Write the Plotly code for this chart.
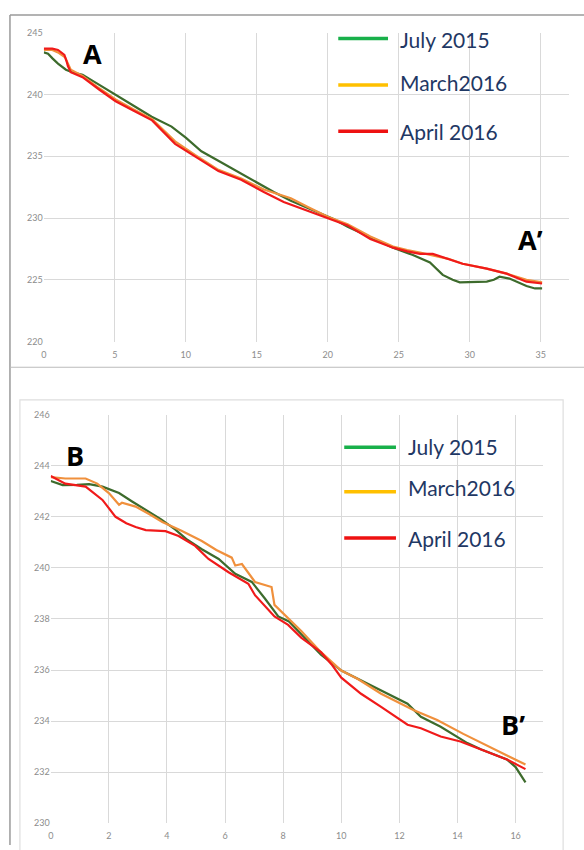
import plotly.graph_objects as go

# ---------------- data: profile A-A' ----------------
a_green_x = [0, 0.3, 0.63, 1.0, 1.56, 2.0, 2.73, 3.9, 5.06, 6.3, 7.6, 9.0, 10.0, 11.1, 12.2, 13.4, 15.0, 16.2, 17.4, 18.8, 20.0, 20.45, 21.4, 22.5, 23.5, 24.6, 26.0, 27.2, 28.1, 28.8, 29.3, 30.2, 31.2, 31.7, 32.1, 32.8, 33.4, 34.0, 34.6, 35.1]
a_green_y = [243.4, 243.3, 242.9, 242.5, 242.0, 241.8, 241.6, 240.8, 240.0, 239.1, 238.2, 237.4, 236.5, 235.4, 234.7, 233.9, 232.9, 232.1, 231.4, 230.7, 230.1, 229.9, 229.3, 228.7, 228.2, 227.6, 227.0, 226.4, 225.4, 225.0, 224.8, 224.85, 224.85, 225.0, 225.25, 225.1, 224.8, 224.5, 224.3, 224.3]

a_march_x = [0, 0.6, 1.0, 1.5, 1.9, 2.73, 3.9, 5.06, 6.3, 7.63, 9.25, 10.65, 12.3, 13.9, 15.5, 17.4, 18.6, 20.0, 21.4, 23.0, 24.6, 25.6, 26.5, 27.4, 28.5, 29.5, 31.2, 32.6, 34.0, 35.1]
a_march_y = [243.6, 243.6, 243.4, 243.0, 242.0, 241.5, 240.5, 239.6, 238.8, 238.0, 236.2, 235.1, 233.9, 233.2, 232.3, 231.6, 230.9, 230.1, 229.5, 228.5, 227.7, 227.4, 227.2, 227.0, 226.7, 226.3, 225.9, 225.5, 225.0, 224.8]

a_april_x = [0, 0.6, 1.0, 1.3, 1.45, 1.6, 1.7, 1.9, 2.73, 3.9, 5.06, 6.3, 7.63, 9.25, 10.65, 12.3, 13.9, 15.5, 16.9, 18.1, 20.0, 21.4, 23.0, 24.6, 25.6, 26.5, 27.4, 28.5, 29.5, 31.2, 32.6, 34.0, 35.1]
a_april_y = [243.7, 243.7, 243.6, 243.3, 243.2, 242.7, 242.3, 241.8, 241.4, 240.4, 239.45, 238.7, 237.9, 236.0, 235.0, 233.8, 233.1, 232.1, 231.3, 230.8, 230.0, 229.4, 228.3, 227.6, 227.3, 227.1, 227.1, 226.7, 226.3, 225.9, 225.5, 224.85, 224.7]

# ---------------- data: profile B-B' ----------------
b_green_x = [0, 0.41, 0.9, 1.32, 1.78, 2.35, 2.8, 3.27, 3.8, 4.29, 4.7, 5.2, 5.78, 6.35, 6.92, 7.37, 7.83, 8.2, 8.63, 9.3, 10.0, 10.57, 11.37, 12.28, 12.74, 13.42, 14.34, 14.8, 15.7, 16.0, 16.34]
b_green_y = [243.4, 243.24, 243.25, 243.28, 243.18, 242.93, 242.6, 242.28, 241.9, 241.5, 241.1, 240.73, 240.35, 239.77, 239.45, 238.8, 238.1, 237.9, 237.39, 236.6, 235.98, 235.65, 235.2, 234.68, 234.17, 233.78, 233.14, 232.9, 232.5, 232.2, 231.6]

b_march_x = [0, 0.5, 1.2, 1.6, 2.0, 2.35, 2.45, 2.92, 3.4, 3.84, 4.5, 5.2, 5.7, 6.23, 6.35, 6.58, 7.03, 7.6, 7.7, 8.05, 8.63, 9.3, 10.0, 10.57, 11.37, 12.5, 13.3, 14.2, 15.0, 15.7, 16.34]
b_march_y = [243.55, 243.5, 243.5, 243.3, 242.93, 242.47, 242.55, 242.4, 242.1, 241.8, 241.45, 241.05, 240.7, 240.4, 240.09, 240.15, 239.45, 239.25, 238.55, 238.16, 237.52, 236.7, 235.98, 235.65, 235.07, 234.43, 234.04, 233.5, 233.06, 232.65, 232.3]

b_april_x = [0, 0.5, 1.2, 1.78, 2.23, 2.6, 2.92, 3.27, 3.95, 4.4, 4.97, 5.43, 6.12, 6.8, 7.03, 7.7, 8.17, 8.63, 9.3, 9.66, 10.0, 10.68, 11.37, 12.28, 12.74, 13.42, 14.1, 14.8, 15.7, 16.34]
b_april_y = [243.6, 243.3, 243.18, 242.66, 242.0, 241.75, 241.6, 241.48, 241.44, 241.25, 240.86, 240.35, 239.83, 239.38, 238.93, 238.1, 237.77, 237.26, 236.7, 236.23, 235.7, 235.07, 234.56, 233.86, 233.72, 233.4, 233.2, 232.9, 232.5, 232.12]

a_x_ticks = [0, 5, 10, 15, 20, 25, 30, 35]
a_y_ticks = [220, 225, 230, 235, 240, 245]
b_x_ticks = [0, 2, 4, 6, 8, 10, 12, 14, 16]
b_y_ticks = [230, 232, 234, 236, 238, 240, 242, 244, 246]

series_names = ["July 2015", "March2016", "April 2016"]
line_colors = ["#3d6b2c", "#f0903c", "#f01a1a"]
legend_colors = ["#18b04a", "#ffc000", "#ee1111"]

W, H = 584, 850
def px(x): return x / W
def py(y): return 1 - y / H

fig = go.Figure()

for xs, ys, c, n in [(a_green_x, a_green_y, line_colors[0], series_names[0]),
                     (a_march_x, a_march_y, line_colors[1], series_names[1]),
                     (a_april_x, a_april_y, line_colors[2], series_names[2])]:
    fig.add_trace(go.Scatter(x=xs, y=ys, mode="lines", name=n,
                             line=dict(color=c, width=2.2), xaxis="x", yaxis="y", showlegend=False))
for xs, ys, c, n in [(b_green_x, b_green_y, line_colors[0], series_names[0]),
                     (b_march_x, b_march_y, line_colors[1], series_names[1]),
                     (b_april_x, b_april_y, line_colors[2], series_names[2])]:
    fig.add_trace(go.Scatter(x=xs, y=ys, mode="lines", name=n,
                             line=dict(color=c, width=2.2), xaxis="x2", yaxis="y2", showlegend=False))

grid = "#d9d9d9"
tickfont = dict(family="Lato, Open Sans, sans-serif", size=9, color="#8c8c8c")
common = dict(showgrid=True, gridcolor=grid, gridwidth=1, zeroline=False,
              showline=False, ticks="", tickfont=tickfont, fixedrange=True)

fig.update_layout(
    width=W, height=H, margin=dict(l=0, r=0, t=0, b=0),
    paper_bgcolor="white", plot_bgcolor="white",
    xaxis=dict(domain=[px(41), px(569)], range=[0, 37], tickvals=a_x_ticks,
               anchor="y", ticklabelstandoff=6, **common),
    yaxis=dict(domain=[py(340), py(27)], range=[220, 245], tickvals=a_y_ticks,
               anchor="x", **common),
    xaxis2=dict(domain=[px(48), px(543)], range=[0, 16.95], tickvals=b_x_ticks,
                anchor="y2", ticklabelstandoff=6, **common),
    yaxis2=dict(domain=[py(828), py(414)], range=[230, 246], tickvals=b_y_ticks,
                anchor="x2", **common),
    showlegend=False,
)

shapes = []
# panel frames
shapes.append(dict(type="line", xref="paper", yref="paper", x0=px(7), x1=px(7), y0=0, y1=py(9),
                   line=dict(color="#9a9a9a", width=1.5)))
shapes.append(dict(type="line", xref="paper", yref="paper", x0=px(7), x1=1, y0=py(9), y1=py(9),
                   line=dict(color="#9a9a9a", width=1.5)))
shapes.append(dict(type="line", xref="paper", yref="paper", x0=px(7), x1=1, y0=py(366), y1=py(366),
                   line=dict(color="#bbbbbb", width=1.2)))
shapes.append(dict(type="rect", xref="paper", yref="paper", x0=px(17), x1=px(563), y0=-0.01, y1=py(399),
                   line=dict(color="#dedede", width=1.2)))

# legend keys
for i, yy in enumerate([33, 80, 127]):
    shapes.append(dict(type="line", xref="paper", yref="paper", x0=px(337), x1=px(387),
                       y0=py(yy), y1=py(yy), line=dict(color=legend_colors[i], width=3.5)))
for i, yy in enumerate([447, 492, 539]):
    shapes.append(dict(type="line", xref="paper", yref="paper", x0=px(343), x1=px(395),
                       y0=py(yy), y1=py(yy), line=dict(color=legend_colors[i], width=3.5)))
fig.update_layout(shapes=shapes)

ann = []
legfont = dict(family="Lato, Open Sans, sans-serif", size=21, color="#1f3864")
for i, yy in enumerate([34, 78, 127]):
    ann.append(dict(text=series_names[i], xref="paper", yref="paper", x=px(397), y=py(yy),
                    xanchor="left", yanchor="middle", showarrow=False, font=legfont))
for i, yy in enumerate([446, 488, 539]):
    ann.append(dict(text=series_names[i], xref="paper", yref="paper", x=px(405), y=py(yy),
                    xanchor="left", yanchor="middle", showarrow=False, font=legfont))
labfont = dict(family="Open Sans, sans-serif", size=27, color="black")
for t, x, y in [("<b>A</b>", 90, 48), ("<b>A’</b>", 530, 237), ("<b>B</b>", 72, 455), ("<b>B’</b>", 513, 728)]:
    ann.append(dict(text=t, xref="paper", yref="paper", x=px(x), y=py(y),
                    xanchor="center", yanchor="middle", showarrow=False, font=labfont))
fig.update_layout(annotations=ann)

fig.write_html("out.html", config={"displayModeBar": False},
               post_script="document.body.style.margin='0';document.body.style.overflow='hidden';")
